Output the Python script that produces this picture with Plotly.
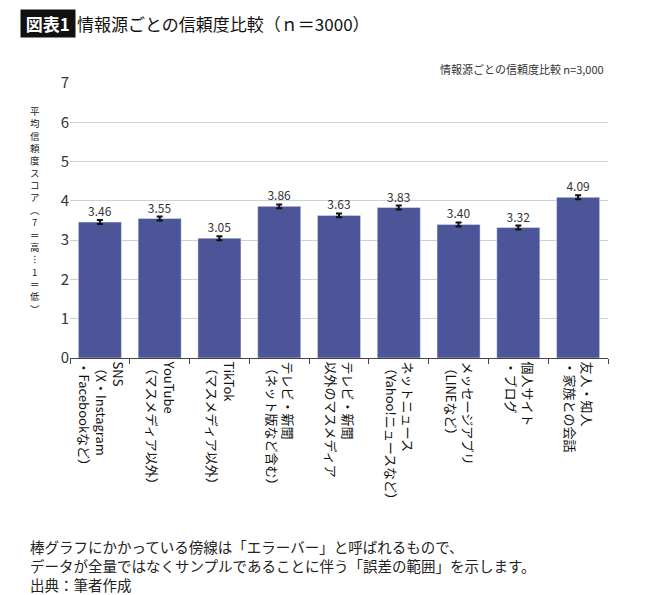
import plotly.graph_objects as go

categories = [
    "SNS<br>（X・Instagram<br>・Facebookなど）",
    "YouTube<br>（マスメディア以外）",
    "TikTok<br>（マスメディア以外）",
    "テレビ・新聞<br>（ネット版など含む）",
    "テレビ・新聞<br>以外のマスメディア",
    "ネットニュース<br>（Yahoo!ニュースなど）",
    "メッセージアプリ<br>（LINEなど）",
    "個人サイト<br>・ブログ",
    "友人・知人<br>・家族との会話",
]
scores = [3.46, 3.55, 3.05, 3.86, 3.63, 3.83, 3.40, 3.32, 4.09]
errors = [0.05, 0.05, 0.05, 0.05, 0.05, 0.05, 0.05, 0.05, 0.05]
labels = ["3.46", "3.55", "3.05", "3.86", "3.63", "3.83", "3.40", "3.32", "4.09"]

font = "Noto Sans CJK JP"

fig = go.Figure(go.Bar(
    x=categories, y=scores,
    marker_color="#4b5598",
    error_y=dict(type="data", array=errors, color="#111", thickness=2, width=3),
    text=labels, textposition="outside", textfont=dict(size=12, color="#333"),
    cliponaxis=False, width=0.72,
))

fig.update_layout(
    width=670, height=595,
    paper_bgcolor="white", plot_bgcolor="white",
    font=dict(family=font, color="#222"),
    margin=dict(l=62, r=70, t=75, b=245),
    showlegend=False,
    xaxis=dict(tickangle=90, tickfont=dict(size=13, color="#111"), automargin=False,
               showline=True, linecolor="#444", ticks="outside", ticklen=5,
               tickson="boundaries", tickcolor="#444"),
    yaxis=dict(range=[0, 7], dtick=1, gridcolor="#d0d0d0", automargin=False,
               tickfont=dict(size=15, color="#333"), zeroline=False),
    annotations=[
        dict(text="<b> 図表1 </b>", x=-0.093, y=1.27, xref="paper", yref="paper",
             xanchor="left", yanchor="top", showarrow=False, bgcolor="#111",
             font=dict(size=17, color="white", family=font)),
        dict(text="情報源ごとの信頼度比較（ｎ＝3000）", x=0.01, y=1.27,
             xref="paper", yref="paper", xanchor="left", yanchor="top",
             showarrow=False, font=dict(size=17, color="#111", family=font)),
        dict(text="情報源ごとの信頼度比較 n=3,000", x=0.996, y=1.015,
             xref="paper", yref="paper", xanchor="right", yanchor="bottom",
             showarrow=False, font=dict(size=11, color="#333", family=font)),
        dict(text="<br>".join("平均信頼度スコア") + "<br>︵<br>7<br>＝<br>高<br>︙<br>1<br>＝<br>低<br>︶",
             x=-0.065, y=0.93, xref="paper", yref="paper", xanchor="center", yanchor="top",
             showarrow=False, font=dict(size=9.5, color="#222", family=font)),
        dict(text="棒グラフにかかっている傍線は「エラーバー」と呼ばれるもので、<br>"
                  "データが全量ではなくサンプルであることに伴う「誤差の範囲」を示します。<br>"
                  "出典：筆者作成",
             x=-0.078, y=-0.87, xref="paper", yref="paper", xanchor="left", yanchor="bottom",
             align="left", showarrow=False,
             font=dict(size=14.5, color="#222", family=font)),
    ],
)

fig.write_html("out.html")
